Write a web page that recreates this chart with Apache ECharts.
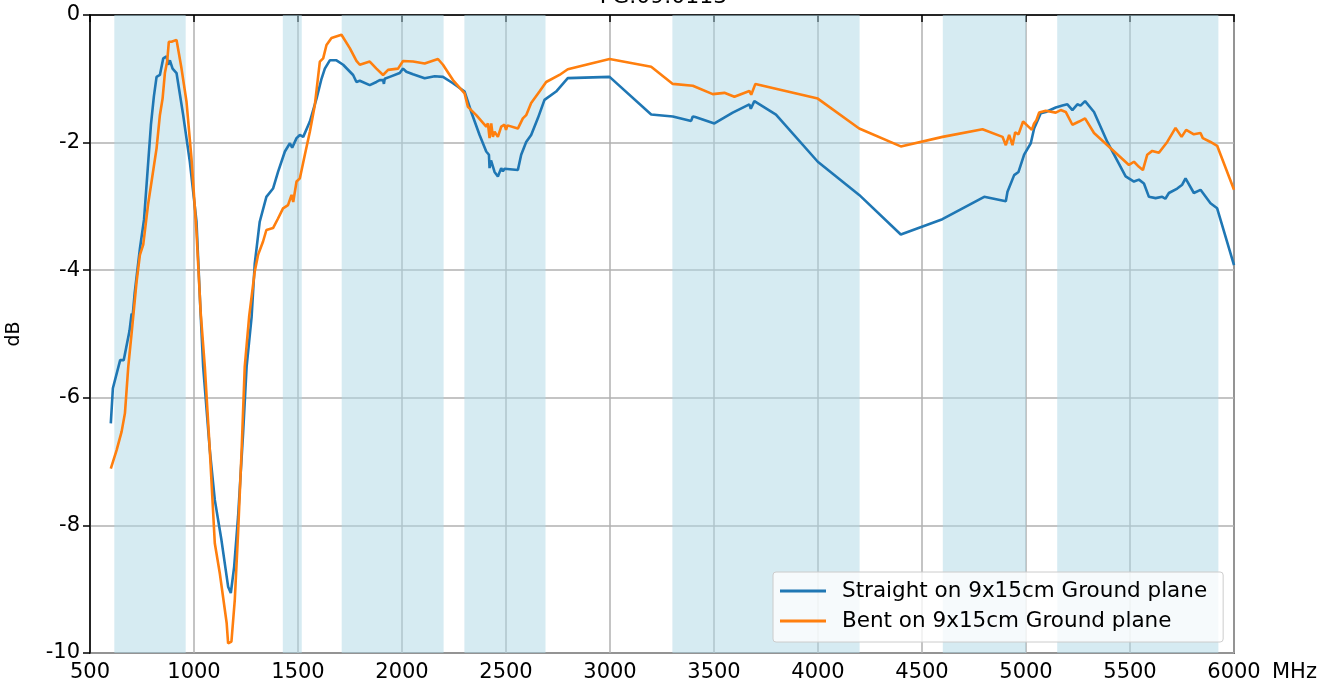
<!DOCTYPE html>
<html>
<head>
<meta charset="utf-8">
<title>FG.09.0113</title>
<script src="https://cdn.jsdelivr.net/npm/echarts@6/dist/echarts.min.js"></script>
<style>
  html, body { margin: 0; padding: 0; background: #fff; }
  #chart { width: 1327px; height: 691px; }
</style>
</head>
<body>
<div id="chart"></div>
<script>
    // 数据 (MHz / dB)
    const titleText = 'FG.09.0113';
    const seriesNames = ['Straight on 9x15cm Ground plane', 'Bent on 9x15cm Ground plane'];

    const straightMHz = [600, 610, 645, 662, 690, 700, 705, 715, 740, 760, 780, 793, 807, 820, 836, 852, 868, 876, 884, 897,
        916, 948, 980, 1012, 1030, 1044, 1076, 1100, 1132, 1164, 1177, 1193, 1212, 1236, 1253, 1277, 1292, 1316, 1348, 1380,
        1404, 1437, 1461, 1472, 1493, 1509, 1525, 1557, 1589, 1613, 1629, 1653, 1685, 1717, 1765, 1781, 1797, 1845, 1877, 1893,
        1909, 1913, 1917, 1941, 1989, 2005, 2021, 2053, 2109, 2157, 2165, 2197, 2245, 2301, 2333, 2373, 2405, 2418, 2421, 2428,
        2445, 2461, 2477, 2485, 2493, 2557, 2573, 2597, 2621, 2653, 2685, 2741, 2797, 2998, 3198, 3302, 3390, 3398, 3410, 3502,
        3590, 3670, 3677, 3694, 3798, 3999, 4198, 4398, 4598, 4799, 4903, 4911, 4920, 4943, 4964, 4991, 5023, 5039, 5071, 5095,
        5143, 5175, 5199, 5223, 5247, 5262, 5284, 5327, 5391, 5479, 5519, 5543, 5567, 5591, 5623, 5655, 5670, 5687, 5727, 5751,
        5767, 5807, 5839, 5887, 5919, 6000];
    const straightDB = [-6.40, -5.85, -5.41, -5.41, -4.95, -4.68, -4.72, -4.35, -3.66, -3.20, -2.30, -1.72, -1.28, -0.97, -0.94, -0.68, -0.65, -0.78, -0.71, -0.84,
        -0.91, -1.57, -2.30, -3.24, -4.55, -5.51, -6.82, -7.60, -8.23, -8.96, -9.06, -8.65, -7.86, -6.56, -5.51, -4.73, -3.90, -3.24, -2.85, -2.72,
        -2.46, -2.14, -2.01, -2.08, -1.93, -1.88, -1.91, -1.67, -1.31, -1.00, -0.84, -0.71, -0.71, -0.78, -0.94, -1.05, -1.03, -1.10, -1.05, -1.02,
        -1.02, -1.08, -1.00, -0.97, -0.91, -0.84, -0.89, -0.93, -0.99, -0.96, -0.99, -0.97, -1.07, -1.20, -1.52, -1.88, -2.14, -2.19, -2.40, -2.28,
        -2.46, -2.53, -2.40, -2.45, -2.41, -2.43, -2.19, -1.99, -1.88, -1.62, -1.33, -1.20, -0.99, -0.97, -1.56, -1.59, -1.66, -1.59, -1.60, -1.70,
        -1.53, -1.40, -1.47, -1.35, -1.56, -2.30, -2.82, -3.44, -3.20, -2.85, -2.92, -2.77, -2.80, -2.51, -2.46, -2.19, -2.01, -1.78, -1.54, -1.52,
        -1.45, -1.42, -1.40, -1.49, -1.40, -1.42, -1.35, -1.52, -1.99, -2.53, -2.61, -2.58, -2.64, -2.85, -2.87, -2.85, -2.88, -2.79, -2.72, -2.66,
        -2.56, -2.79, -2.74, -2.95, -3.03, -3.92];

    const bentMHz = [600, 628, 652, 668, 684, 700, 724, 740, 756, 780, 796, 820, 836, 849, 860, 871, 879, 892, 900, 916,
        940, 964, 988, 1012, 1032, 1052, 1076, 1100, 1124, 1157, 1164, 1180, 1196, 1212, 1229, 1244, 1265, 1292, 1308, 1332,
        1348, 1380, 1404, 1428, 1452, 1469, 1477, 1493, 1509, 1533, 1557, 1581, 1605, 1621, 1637, 1661, 1709, 1749, 1781, 1797,
        1845, 1877, 1909, 1933, 1981, 2005, 2053, 2109, 2173, 2197, 2245, 2301, 2317, 2357, 2405, 2413, 2421, 2429, 2437, 2445,
        2461, 2477, 2493, 2500, 2507, 2557, 2581, 2597, 2621, 2661, 2693, 2757, 2797, 2998, 3198, 3302, 3398, 3494, 3550, 3598,
        3670, 3679, 3699, 3999, 4198, 4398, 4599, 4791, 4887, 4903, 4919, 4935, 4948, 4964, 4986, 5028, 5039, 5050, 5063, 5095,
        5143, 5167, 5191, 5223, 5255, 5284, 5327, 5495, 5519, 5543, 5562, 5583, 5607, 5639, 5679, 5719, 5748, 5770, 5807, 5839,
        5850, 5887, 5919, 6000];
    const bentDB = [-7.11, -6.82, -6.53, -6.24, -5.51, -4.99, -4.18, -3.76, -3.60, -2.95, -2.61, -2.09, -1.57, -1.31, -0.91, -0.73, -0.42, -0.42, -0.39, -0.39,
        -0.84, -1.36, -2.25, -3.40, -4.66, -5.51, -6.82, -8.28, -8.75, -9.53, -9.85, -9.82, -9.17, -8.12, -6.82, -5.51, -4.73, -4.02, -3.76, -3.55,
        -3.37, -3.34, -3.19, -3.03, -2.98, -2.82, -2.93, -2.61, -2.56, -2.19, -1.83, -1.41, -0.73, -0.68, -0.47, -0.36, -0.31, -0.52, -0.72, -0.78,
        -0.73, -0.84, -0.94, -0.86, -0.84, -0.72, -0.73, -0.76, -0.69, -0.78, -1.02, -1.23, -1.44, -1.57, -1.75, -1.70, -1.93, -1.70, -1.91, -1.83,
        -1.91, -1.75, -1.72, -1.80, -1.73, -1.78, -1.62, -1.57, -1.38, -1.20, -1.05, -0.94, -0.85, -0.69, -0.81, -1.08, -1.11, -1.24, -1.22, -1.28,
        -1.19, -1.25, -1.08, -1.31, -1.78, -2.06, -1.91, -1.79, -1.91, -2.04, -1.88, -2.04, -1.84, -1.87, -1.67, -1.80, -1.70, -1.65, -1.53, -1.50,
        -1.53, -1.49, -1.52, -1.72, -1.67, -1.62, -1.85, -2.35, -2.30, -2.38, -2.43, -2.19, -2.13, -2.16, -1.99, -1.77, -1.91, -1.80, -1.87, -1.85,
        -1.93, -1.99, -2.05, -2.74];

    // 频段 (MHz)
    const bandStart = [617, 1427, 1710, 2300, 3300, 4600, 5150];
    const bandEnd = [960, 1518, 2200, 2690, 4200, 5000, 5925];

    const xTicks = { min: 500, max: 6000, interval: 500 };
    const yTicks = { min: -10, max: 0, interval: 2 };

    const pairs = (xs, ys) => xs.map((x, i) => [x, ys[i]]);
    const bands = bandStart.map((s, i) => [{ xAxis: s }, { xAxis: bandEnd[i] }]);

    const font = 'DejaVu Sans';
    const fs = 21;
    let myChart = echarts.init(document.getElementById('chart'), null, { renderer: 'canvas' });
    myChart.setOption({
        animation: false,
        textStyle: { fontFamily: font },
        title: {
            text: titleText,
            left: 'center',
            top: -19,
            textStyle: { fontFamily: font, fontSize: 22, fontWeight: 'normal', color: '#000' }
        },
        grid: {
            left: 90,
            right: 93,
            top: 15,
            bottom: 38,
            containLabel: false,
            outerBoundsMode: 'none',
            show: true,
            borderColor: '#000',
            borderWidth: 1.5,
            backgroundColor: 'transparent'
        },
        // MHz 单位
        graphic: [{
            type: 'text',
            left: 1272,
            top: 662,
            style: { text: 'MHz', fontFamily: font, fontSize: fs, fill: '#000' }
        }],
        legend: {
            left: 773,
            top: 572,
            orient: 'vertical',
            icon: 'rect',
            itemWidth: 46,
            itemHeight: 3,
            itemGap: 8,
            padding: [8, 16, 10, 7],
            backgroundColor: 'rgba(255,255,255,0.8)',
            borderColor: '#cccccc',
            borderWidth: 1,
            borderRadius: 3,
            textStyle: { fontFamily: font, fontSize: 21.5, color: '#000', padding: [0, 0, 0, 11] },
            data: seriesNames
        },
        xAxis: {
            type: 'value',
            min: xTicks.min,
            max: xTicks.max,
            interval: xTicks.interval,
            axisLine: { lineStyle: { color: '#000', width: 1.5 } },
            axisTick: { show: true, inside: false, length: 7, lineStyle: { color: '#000', width: 1.5 } },
            axisLabel: { fontFamily: font, fontSize: fs, color: '#000', margin: 9, formatter: v => String(v) },
            splitLine: { show: true, lineStyle: { color: '#b0b0b0', width: 1.5 } }
        },
        yAxis: {
            type: 'value',
            min: yTicks.min,
            max: yTicks.max,
            interval: yTicks.interval,
            name: 'dB',
            nameLocation: 'middle',
            nameRotate: 90,
            nameGap: 66,
            nameTextStyle: { fontFamily: font, fontSize: 19, color: '#000' },
            axisLine: { show: true, lineStyle: { color: '#000', width: 1.5 } },
            axisTick: { show: true, inside: false, length: 7, lineStyle: { color: '#000', width: 1.5 } },
            axisLabel: { fontFamily: font, fontSize: fs, color: '#000', margin: 10 },
            splitLine: { show: true, lineStyle: { color: '#b0b0b0', width: 1.5 } }
        },
        series: [
            {
                name: seriesNames[0],
                type: 'line',
                data: pairs(straightMHz, straightDB),
                showSymbol: false,
                color: '#1f77b4',
                lineStyle: { width: 2.6, color: '#1f77b4' },
                z: 3,
                markArea: {
                    silent: true,
                    itemStyle: { color: 'rgba(173,216,230,0.5)' },
                    data: bands
                }
            },
            {
                name: seriesNames[1],
                type: 'line',
                data: pairs(bentMHz, bentDB),
                showSymbol: false,
                color: '#ff7f0e',
                lineStyle: { width: 2.6, color: '#ff7f0e' },
                z: 4
            }
        ]
    });
</script>
</body>
</html>
